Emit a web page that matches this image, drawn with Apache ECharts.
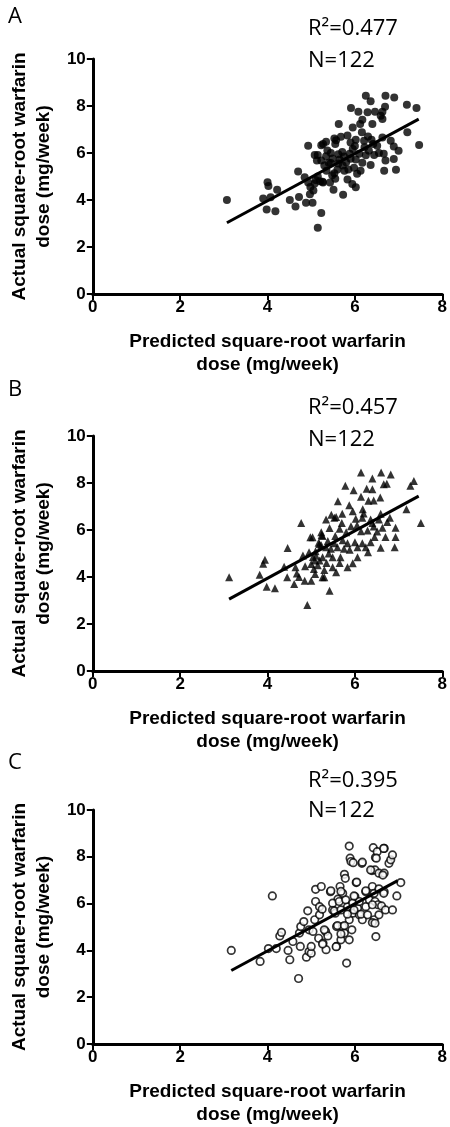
<!DOCTYPE html>
<html><head><meta charset="utf-8">
<script src="https://cdn.jsdelivr.net/npm/echarts@6/dist/echarts.min.js"></script>
<style>html,body{margin:0;padding:0;background:#fff}#c{width:450px;height:1127px}</style>
</head><body><div id="c"></div>
<script>
const panelLabels = ['A', 'B', 'C'];
const r2Labels = ['R\u00b2=0.477', 'R\u00b2=0.457', 'R\u00b2=0.395'];
const nLabels = ['N=122', 'N=122', 'N=122'];
const xAxisTitle = 'Predicted square-root warfarin\ndose (mg/week)';
const yAxisTitle = 'Actual square-root warfarin\ndose (mg/week)';
const xMin = 0, xMax = 8, xStep = 2;
const yMin = 0, yMax = 10, yStep = 2;

const pointsA = [
[3.07,4.0],[4.0,4.76],[4.02,4.6],[4.22,4.44],[3.9,4.06],[4.07,4.12],[3.98,3.6],[4.18,3.52],[4.51,4.0],[4.64,3.72],
[4.72,4.13],[4.7,5.21],[4.88,3.88],[5.03,3.88],[4.93,6.31],[5.08,5.92],[5.15,5.92],[5.13,5.68],[4.85,4.97],[4.93,4.75],
[4.98,4.55],[5.05,4.4],[4.97,4.25],[5.08,4.7],[5.1,4.85],[5.2,4.8],[5.27,4.75],[5.23,3.45],[5.15,2.82],
[6.25,8.44],[6.36,8.2],[6.7,8.44],[6.9,8.36],[7.19,8.05],[7.41,7.91],[5.91,7.91],[6.08,7.76],[6.29,7.73],[6.46,7.76],
[6.63,7.76],[6.69,7.97],[6.59,7.58],[6.17,7.42],[6.12,7.23],[5.95,7.09],[6.4,7.23],[6.63,7.45],[5.63,7.23],[6.16,6.88],
[7.2,6.88],[7.47,6.34],[5.83,6.74],[5.68,6.69],[5.53,6.62],[5.34,6.48],[5.27,6.38],[5.55,6.38],[6.02,6.56],[6.21,6.52],
[6.38,6.56],[6.63,6.66],[6.82,6.52],[6.89,6.28],[7.0,6.1],[6.51,6.31],[6.42,6.38],[6.32,6.1],[5.95,6.17],[5.88,5.97],
[6.1,5.97],[6.25,5.9],[6.44,5.92],[6.66,5.97],[6.89,5.75],[6.7,5.68],[6.94,5.29],[6.67,5.25],[6.36,5.49],[6.17,5.58],
[6.02,5.72],[5.8,5.61],[5.65,5.72],[5.49,5.77],[5.34,5.86],[5.23,5.68],[5.3,5.47],[5.45,5.57],[5.72,5.47],[5.98,5.37],
[6.13,5.25],[5.53,5.14],[5.76,5.25],[5.26,4.78],[5.55,4.9],[5.83,4.87],[5.94,4.68],[6.02,4.54],[5.51,4.44],[5.73,4.22],
[5.23,6.33],[5.37,6.11],[5.4,5.58],[5.48,5.05],[5.57,6.54],[5.71,6.04],[5.9,5.76],[6.05,5.12],[5.35,5.25],[5.6,5.3],
[5.85,5.3],[6.0,6.3],[6.55,6.0],[5.43,4.75],[5.62,5.95],[5.75,5.85],[6.3,6.7],[5.15,5.0],[5.62,5.55],[5.9,6.45],
[6.22,6.25],[5.45,6.0]
];
const pointsB = [
[3.12,3.99],[4.77,6.3],[4.46,5.23],[3.94,4.73],[3.9,4.56],[3.82,4.1],[3.98,3.59],[4.17,3.52],[4.38,4.44],[4.45,3.99],
[4.61,3.7],[4.67,4.15],[4.72,4.0],[4.86,4.46],[4.81,4.92],[4.91,2.81],[4.98,5.69],[5.03,5.69],[5.24,5.79],[5.17,5.46],
[5.04,4.85],[5.08,4.7],[5.06,4.34],[5.09,4.13],[5.0,3.84],[5.19,4.7],[5.26,3.99],
[5.19,5.4],[5.34,5.27],[5.11,4.9],[5.0,4.55],[4.64,4.42],[5.3,4.3],[4.85,3.84],[5.15,4.5],[5.4,5.0],
[6.14,8.45],[6.4,8.19],[6.6,8.45],[6.82,8.36],[7.35,8.08],[7.27,7.88],[5.78,7.88],[5.97,7.69],[6.27,7.76],[6.4,7.73],
[6.66,7.95],[6.73,7.97],[6.14,7.41],[6.31,7.24],[6.43,7.26],[6.58,7.38],[5.61,7.22],[5.87,7.05],[6.18,6.88],[7.18,6.88],
[7.51,6.3],[5.46,6.65],[5.53,6.52],[5.57,6.55],[5.71,6.69],[5.34,6.45],[6.02,6.48],[6.17,6.52],[6.36,6.45],[6.59,6.69],
[6.8,6.52],[6.74,6.34],[6.93,6.1],[6.4,6.3],[6.43,6.15],[5.42,6.08],[5.65,6.05],[5.91,6.16],[6.14,5.95],[6.29,5.98],
[6.51,5.94],[6.63,6.1],[6.7,5.7],[6.93,5.7],[5.23,5.9],[5.26,5.75],[5.38,5.53],[5.53,5.44],[5.72,5.56],[5.83,5.44],
[6.0,5.48],[6.17,5.44],[6.36,5.48],[6.59,5.24],[6.91,5.27],[5.23,5.35],[5.45,5.2],[5.6,5.27],[5.88,5.16],[6.06,5.27],
[6.25,5.27],[5.26,4.84],[5.49,4.84],[5.67,4.84],[6.06,4.84],[5.95,4.58],[5.83,4.41],[5.49,4.41],[5.57,4.2],[5.3,3.99],
[5.42,3.42],[5.8,5.9],[6.05,6.2],[5.75,5.2],[6.45,5.7],[5.55,5.75],[6.2,6.7],[5.95,6.8],[5.1,5.1],[4.95,5.05],
[5.65,4.6],[6.3,5.05],[5.35,4.6],[6.55,6.45],[5.7,6.3]
];
const pointsC = [
[3.17,4.0],[3.83,3.53],[4.02,4.08],[4.2,4.08],[4.11,6.33],[4.28,4.62],[4.32,4.77],[4.47,4.0],[4.51,3.6],[4.71,2.8],
[4.58,4.38],[4.73,4.74],[4.76,5.02],[4.83,5.23],[4.92,5.69],[4.75,4.17],[4.89,3.71],[4.95,3.95],[5.0,3.88],[5.0,4.17],
[4.95,4.88],[5.04,4.81],[5.08,5.31],[5.1,6.09],[5.1,6.61],[5.23,6.73],[5.19,5.87],[5.19,5.52],[5.25,5.76],[5.17,4.52],
[5.27,4.31],[5.33,4.81],[5.34,4.03],[5.38,4.62],[5.44,6.51],[5.49,5.73],[5.61,6.19],[5.55,5.59],[5.58,5.02],[5.58,4.17],
[5.66,6.73],[5.72,6.44],[5.76,7.25],[5.78,7.08],[5.72,5.02],[5.68,4.45],[5.81,3.46],[5.76,4.74],[5.83,5.87],[5.87,5.31],
[5.87,4.45],[5.93,4.88],[5.87,8.46],[5.89,7.94],[5.91,7.8],[5.96,7.75],[6.16,7.72],[6.0,6.3],[6.03,6.9],[5.95,5.59],
[6.06,5.8],[6.1,5.52],[6.17,5.31],[6.25,5.87],[6.25,6.51],[6.33,6.16],[6.39,7.41],[6.42,8.39],[6.46,7.44],[6.47,7.97],
[6.55,7.3],[6.67,7.3],[6.67,8.36],[6.78,7.72],[6.82,7.87],[6.86,8.08],[6.4,6.73],[6.44,6.44],[6.46,6.09],[6.53,5.95],
[6.44,5.31],[6.4,5.19],[6.46,5.16],[6.48,4.59],[6.55,5.52],[6.61,5.9],[6.67,6.51],[6.7,5.73],[6.86,5.73],[6.96,6.33],
[7.05,6.9],
[5.49,6.02],[5.64,6.09],[5.79,6.16],[5.95,6.02],[6.1,6.09],[6.4,5.95],[5.53,5.69],[5.68,5.73],[5.83,5.55],[5.98,5.73],
[6.14,5.55],[6.29,5.52],[5.6,5.06],[5.76,5.06],[5.3,4.88],[5.68,4.7],[5.26,4.27],[5.57,4.16],[5.45,6.55],[5.98,6.33],
[6.25,6.55],[6.55,6.63],[6.66,6.44],[5.68,6.52],[6.04,6.92],[6.36,7.44],[6.51,8.22],[6.66,8.36],[6.49,7.94],[6.17,7.77],
[6.64,7.22]
];
const lineA = [[3.07,3.03],[7.46,7.44]];
const lineB = [[3.12,3.06],[7.46,7.44]];
const lineC = [[3.17,3.14],[6.98,6.98]];

const gridTops = [59, 436, 810];
const gridH = 235;
const letterY = [17, 390, 763];
const r2Y = [29, 408, 781];
const nY = [61, 440, 811];

const FONT = 'Liberation Sans';
const grids = [], xAxes = [], yAxes = [], series = [], graphics = [];
const pts = [pointsA, pointsB, pointsC];
const lines = [lineA, lineB, lineC];
for (let i = 0; i < 3; i++) {
  grids.push({left: 92, width: 352, top: gridTops[i], height: gridH, containLabel: false});
  xAxes.push({
    gridIndex: i, type: 'value', min: xMin, max: xMax, interval: xStep,
    axisLine: {show: true, onZero: false, lineStyle: {color: '#000', width: 3}},
    axisTick: {show: true, length: 6, lineStyle: {color: '#000', width: 2}},
    axisLabel: {color: '#000', fontWeight: 'bold', fontSize: 17, fontFamily: FONT, margin: 5},
    splitLine: {show: false},
    name: xAxisTitle, nameLocation: 'middle', nameGap: 36,
    nameTextStyle: {color: '#000', fontWeight: 'bold', fontSize: 19, lineHeight: 23, fontFamily: FONT}
  });
  yAxes.push({
    gridIndex: i, type: 'value', min: yMin, max: yMax, interval: yStep,
    axisLine: {show: true, onZero: false, lineStyle: {color: '#000', width: 3}},
    axisTick: {show: true, length: 6, lineStyle: {color: '#000', width: 2}},
    axisLabel: {color: '#000', fontWeight: 'bold', fontSize: 17, fontFamily: FONT, margin: 7},
    splitLine: {show: false},
    name: yAxisTitle, nameLocation: 'middle', nameGap: 33,
    nameTextStyle: {color: '#000', fontWeight: 'bold', fontSize: 19, lineHeight: 24, fontFamily: FONT}
  });
  let marker;
  if (i === 0) marker = {symbol: 'circle', symbolSize: 8, itemStyle: {color: '#000'}};
  else if (i === 1) marker = {symbol: 'triangle', symbolSize: 8, itemStyle: {color: '#000'}};
  else marker = {symbol: 'circle', symbolSize: 7.5, itemStyle: {color: '#fff', borderColor: '#000', borderWidth: 1.7}};
  series.push(Object.assign({type: 'scatter', xAxisIndex: i, yAxisIndex: i, data: pts[i], z: 2}, marker));
  series.push({type: 'line', xAxisIndex: i, yAxisIndex: i, data: lines[i], showSymbol: false, symbol: 'none',
    lineStyle: {color: '#000', width: 3}, z: 3});
  graphics.push({type: 'text', x: 8, y: letterY[i], style: {text: panelLabels[i], font: '22px "Open Sans"', fill: '#000', verticalAlign: 'middle'}});
  graphics.push({type: 'text', x: 308, y: r2Y[i], style: {text: r2Labels[i], font: '22px "Open Sans"', fill: '#000', verticalAlign: 'middle'}});
  graphics.push({type: 'text', x: 308, y: nY[i], style: {text: nLabels[i], font: '22px "Open Sans"', fill: '#000', verticalAlign: 'middle'}});
}
const chart = echarts.init(document.getElementById('c'));
chart.setOption({animation: false, backgroundColor: '#fff', grid: grids, xAxis: xAxes, yAxis: yAxes, series: series, graphic: graphics});
</script></body></html>
